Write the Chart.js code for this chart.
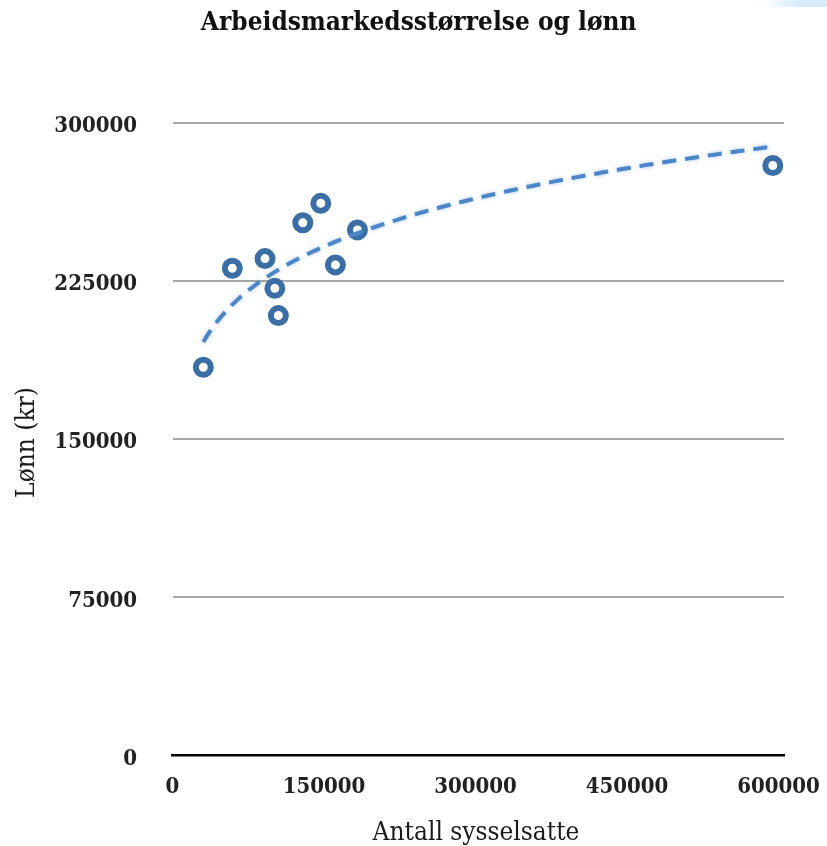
<!DOCTYPE html>
<html>
<head>
<meta charset="utf-8">
<script src="https://cdn.jsdelivr.net/npm/chart.js@4.4.1/dist/chart.umd.min.js"></script>
<style>
html, body { margin: 0; padding: 0; background: #ffffff; }
#wrap { width: 827px; height: 846px; position: relative; }
#corner { position: absolute; left: 760px; top: 0; width: 67px; height: 7px;
  background: linear-gradient(to right, rgba(214,236,250,0), rgba(214,236,250,1) 60%);
  border-bottom-left-radius: 6px; }
</style>
</head>
<body>
<div id="wrap"><canvas id="c" width="827" height="846"></canvas><div id="corner"></div></div>
<script>
// ---- data ----
const chartTitle = "Arbeidsmarkedsstørrelse og lønn";
const xAxisTitle = "Antall sysselsatte";
const yAxisTitle = "Lønn (kr)";
const employed = [30500, 59200, 91600, 101300, 104800, 129000, 146800, 161300, 183100, 594300];
const wages    = [184100, 231000, 235600, 221500, 208600, 252600, 261800, 232600, 249200, 279700];
const xTicks = [0, 150000, 300000, 450000, 600000];
const yTicks = [0, 75000, 150000, 225000, 300000];

// ---- power trendline (least squares on ln x, ln y), as in the spreadsheet ----
function powerFit(xs, ys) {
  const n = xs.length;
  let sx = 0, sy = 0, sxx = 0, sxy = 0;
  for (let i = 0; i < n; i++) {
    const lx = Math.log(xs[i]), ly = Math.log(ys[i]);
    sx += lx; sy += ly; sxx += lx * lx; sxy += lx * ly;
  }
  const b = (n * sxy - sx * sy) / (n * sxx - sx * sx);
  const a = Math.exp((sy - b * sx) / n);
  return { a, b };
}
const fit = powerFit(employed, wages);
const xMinData = Math.min(...employed), xMaxData = Math.max(...employed);
const trendPts = [];
const STEPS = 120;
for (let i = 0; i <= STEPS; i++) {
  const x = xMinData + (xMaxData - xMinData) * i / STEPS;
  trendPts.push({ x: x, y: fit.a * Math.pow(x, fit.b) });
}
const points = employed.map((x, i) => ({ x: x, y: wages[i] }));

const FAM = '"DejaVu Serif Condensed", "DejaVu Serif", serif';

const textPlugin = {
  id: 'texts',
  afterDraw(chart) {
    const ctx = chart.ctx;
    ctx.save();
    ctx.fillStyle = '#111111';
    ctx.textAlign = 'center';
    ctx.textBaseline = 'alphabetic';
    ctx.font = 'bold 26px ' + FAM;
    ctx.fillText(chartTitle, 418.7, 30);
    ctx.font = '26px ' + FAM;
    ctx.fillStyle = '#1a1a1a';
    ctx.fillText(xAxisTitle, 476, 840);
    ctx.translate(33.5, 442.5);
    ctx.rotate(-Math.PI / 2);
    ctx.fillText(yAxisTitle, 0, 0);
    ctx.restore();
  }
};

const glowPlugin = {
  id: 'glow',
  beforeDatasetDraw(chart, args) {
    if (args.index === 0) {
      chart.ctx.save();
      chart.ctx.shadowColor = 'rgba(74,134,200,0.45)';
      chart.ctx.shadowBlur = 4;
    }
  },
  afterDatasetDraw(chart, args) {
    if (args.index === 0) chart.ctx.restore();
  }
};

new Chart(document.getElementById('c').getContext('2d'), {
  type: 'scatter',
  data: {
    datasets: [
      {
        label: 'Trend',
        data: trendPts,
        showLine: true,
        pointRadius: 0,
        pointHoverRadius: 0,
        borderColor: '#4a86c8',
        borderWidth: 4,
        borderDash: [14, 9],
        borderCapStyle: 'butt',
        fill: false,
        tension: 0,
        order: 0
      },
      {
        label: 'Lønn',
        data: points,
        showLine: false,
        pointRadius: 7.5,
        pointHoverRadius: 7.5,
        pointBorderWidth: 6,
        pointBackgroundColor: '#ffffff',
        pointBorderColor: '#3a6ea5',
        order: 1
      }
    ]
  },
  options: {
    responsive: false,
    animation: false,
    devicePixelRatio: 1,
    layout: { padding: { left: 0, right: 43, top: 122.7, bottom: 0 } },
    plugins: {
      legend: { display: false },
      title: { display: false },
      tooltip: { enabled: false }
    },
    scales: {
      x: {
        type: 'linear',
        min: 0,
        max: 605400,
        afterBuildTicks: (s) => { s.ticks = xTicks.map(v => ({ value: v })); },
        afterFit: (s) => { s.height = 90.3; s.paddingLeft = 0; s.paddingRight = 0; },
        grid: { display: false, drawTicks: false },
        border: { display: true, color: '#000000', width: 2.5 },
        ticks: {
          padding: 18,
          color: '#222222',
          font: { family: FAM, size: 22, weight: 'bold' },
          maxRotation: 0,
          autoSkip: false,
          callback: (v) => String(v)
        }
      },
      y: {
        type: 'linear',
        min: 0,
        max: 300000,
        afterBuildTicks: (s) => { s.ticks = yTicks.map(v => ({ value: v })); },
        afterFit: (s) => { s.width = 172.5; s.paddingTop = 0; s.paddingBottom = 0; },
        grid: {
          color: (c) => (c.tick && c.tick.value === 0) ? 'rgba(0,0,0,0)' : '#a6a6a6',
          lineWidth: 2,
          drawTicks: false
        },
        border: { display: false },
        ticks: {
          padding: 35.5,
          labelOffset: 3.5,
          color: '#222222',
          font: { family: FAM, size: 22, weight: 'bold' },
          autoSkip: false,
          callback: (v) => String(v)
        }
      }
    }
  },
  plugins: [textPlugin, glowPlugin]
});
</script>
</body>
</html>
